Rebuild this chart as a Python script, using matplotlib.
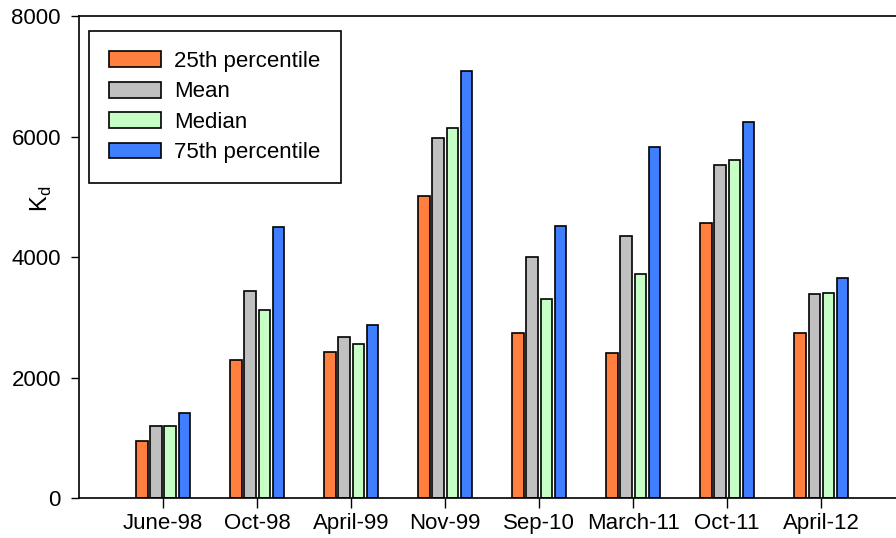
import numpy as np
import matplotlib
matplotlib.use("Agg")
import matplotlib.pyplot as plt

plt.rcParams['font.family'] = ['Liberation Sans', 'DejaVu Sans']

# Sampling dates and the four statistics of Kd
dates = ["June-98", "Oct-98", "April-99", "Nov-99",
         "Sep-10", "March-11", "Oct-11", "April-12"]
p25 = [950, 2283, 2428, 5010, 2739, 2402, 4571, 2739]
mean = [1188, 3439, 2672, 5980, 3994, 4348, 5535, 3384]
median = [1188, 3116, 2561, 6134, 3298, 3720, 5603, 3395]
p75 = [1417, 4504, 2872, 7081, 4514, 5820, 6248, 3658]

series = [
    ("25th percentile", p25, "#ff7f3f"),
    ("Mean", mean, "#c0c0c0"),
    ("Median", median, "#c6ffc6"),
    ("75th percentile", p75, "#3f7fff"),
]

fig = plt.figure(figsize=(8.96, 5.38), dpi=100)
ax = fig.add_axes([0.0882, 0.0743, 0.9196, 0.8959])

x = np.arange(len(dates))
pitch = 0.15
width = 0.12
for i, (label, values, color) in enumerate(series):
    offset = (i - 1.5) * pitch
    ax.bar(x + offset, values, width, color=color, edgecolor="black",
           linewidth=1.2, label=label)

ax.set_xlim(-0.894, 7.87)
ax.set_ylim(0, 8000)
ax.set_xticks(x)
ax.set_xticklabels(dates)
ax.set_yticks([0, 2000, 4000, 6000, 8000])
ax.tick_params(axis="y", direction="out", length=6, width=1,
               labelsize=16, pad=7)
ax.tick_params(axis="x", direction="out", length=7, width=1,
               labelsize=16, pad=4)

# Kd label sits a bit above the middle of the axis, as in the original
ax.set_ylabel("K$_\\mathregular{d}$", fontsize=17)
ax.yaxis.set_label_coords(-0.030, 0.62)

for side in ["left", "bottom", "top"]:
    ax.spines[side].set_linewidth(1.2)
ax.spines["right"].set_visible(False)

leg = ax.legend(loc="upper left", bbox_to_anchor=(0.012, 0.969),
                borderaxespad=0, fontsize=16, frameon=True, fancybox=False,
                framealpha=1, edgecolor="black", handlelength=2.35,
                handleheight=0.72, labelspacing=0.425, borderpad=0.9,
                handletextpad=0.6)
leg.get_frame().set_linewidth(1.2)

fig.savefig("out.png", dpi=100)
